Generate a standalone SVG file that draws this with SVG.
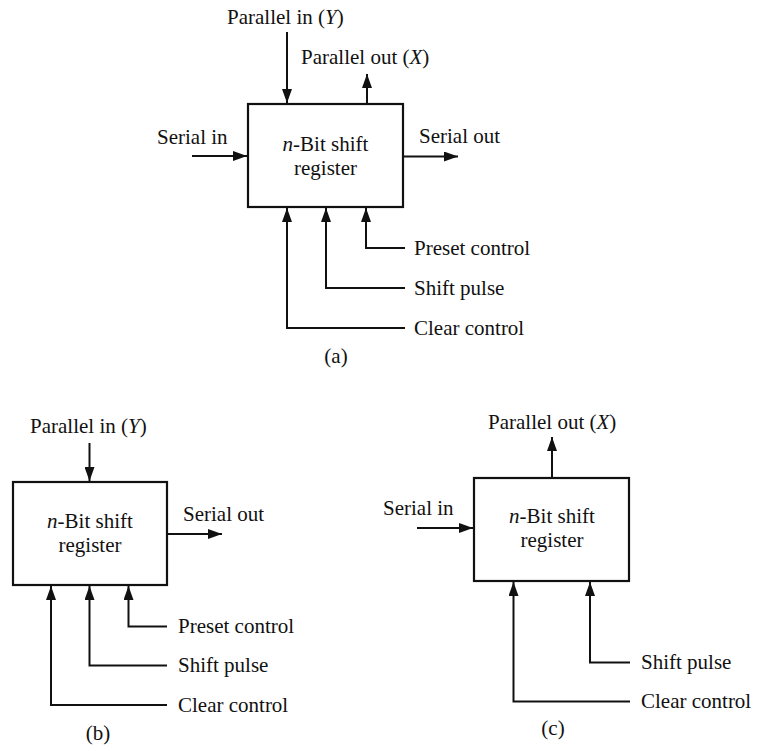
<svg xmlns="http://www.w3.org/2000/svg" width="760" height="751" viewBox="0 0 760 751">
<style>
text{font-family:"Liberation Serif","Times New Roman",serif;font-size:21px;fill:#111}
.c{text-anchor:middle}
.i{font-style:italic}
.box{fill:#fff;stroke:#111;stroke-width:2.2}
.w{fill:none;stroke:#111;stroke-width:2}
</style>
<defs>
<marker id="ah" viewBox="0 0 14 10" refX="14" refY="5" markerWidth="14" markerHeight="10" markerUnits="userSpaceOnUse" orient="auto"><path d="M0,0 L14,5 L0,10 z" fill="#111"/></marker>
</defs>
<rect width="760" height="751" fill="#fff"/>

<g id="connectors">
<!-- (a) -->
<path class="w" d="M287,32 V103" marker-end="url(#ah)"/>
<path class="w" d="M367,104 V74" marker-end="url(#ah)"/>
<path class="w" d="M192,156 H247" marker-end="url(#ah)"/>
<path class="w" d="M403,156.5 H458" marker-end="url(#ah)"/>
<path class="w" d="M405,248 H366 V208" marker-end="url(#ah)"/>
<path class="w" d="M405,288 H326 V208" marker-end="url(#ah)"/>
<path class="w" d="M405,328 H287 V208" marker-end="url(#ah)"/>
<!-- (b) -->
<path class="w" d="M89.5,443 V481" marker-end="url(#ah)"/>
<path class="w" d="M167,534 H222" marker-end="url(#ah)"/>
<path class="w" d="M167,626.5 H128.5 V586" marker-end="url(#ah)"/>
<path class="w" d="M167,665.5 H89.5 V586" marker-end="url(#ah)"/>
<path class="w" d="M167,705 H51 V586" marker-end="url(#ah)"/>
<!-- (c) -->
<path class="w" d="M552,478 V437" marker-end="url(#ah)"/>
<path class="w" d="M417,528 H473" marker-end="url(#ah)"/>
<path class="w" d="M630,662.5 H590 V582" marker-end="url(#ah)"/>
<path class="w" d="M630,701.5 H513.5 V582" marker-end="url(#ah)"/>
</g>

<g id="reg-a">
<rect class="box" x="248" y="104" width="155" height="103"/>
<text class="c" x="325.5" y="151"><tspan class="i">n</tspan>-Bit shift</text>
<text class="c" x="325.5" y="175">register</text>
</g>
<g id="labels-a">
<text x="227" y="24">Parallel in (<tspan class="i">Y</tspan>)</text>
<text x="301" y="64">Parallel out (<tspan class="i">X</tspan>)</text>
<text x="157" y="144">Serial in</text>
<text x="419" y="143">Serial out</text>
<text x="414" y="255">Preset control</text>
<text x="414" y="295">Shift pulse</text>
<text x="414" y="335">Clear control</text>
<text class="c" x="336" y="363">(a)</text>
</g>

<g id="reg-b">
<rect class="box" x="13" y="482" width="154" height="103"/>
<text class="c" x="90" y="528"><tspan class="i">n</tspan>-Bit shift</text>
<text class="c" x="90" y="552">register</text>
</g>
<g id="labels-b">
<text x="30" y="433">Parallel in (<tspan class="i">Y</tspan>)</text>
<text x="183" y="521">Serial out</text>
<text x="178" y="633">Preset control</text>
<text x="178" y="672">Shift pulse</text>
<text x="178" y="712">Clear control</text>
<text class="c" x="98" y="740">(b)</text>
</g>

<g id="reg-c">
<rect class="box" x="474" y="478" width="155" height="103"/>
<text class="c" x="552" y="523"><tspan class="i">n</tspan>-Bit shift</text>
<text class="c" x="552" y="547">register</text>
</g>
<g id="labels-c">
<text x="488" y="429">Parallel out (<tspan class="i">X</tspan>)</text>
<text x="383" y="515">Serial in</text>
<text x="641" y="669">Shift pulse</text>
<text x="641" y="708">Clear control</text>
<text class="c" x="553" y="735">(c)</text>
</g>
</svg>
